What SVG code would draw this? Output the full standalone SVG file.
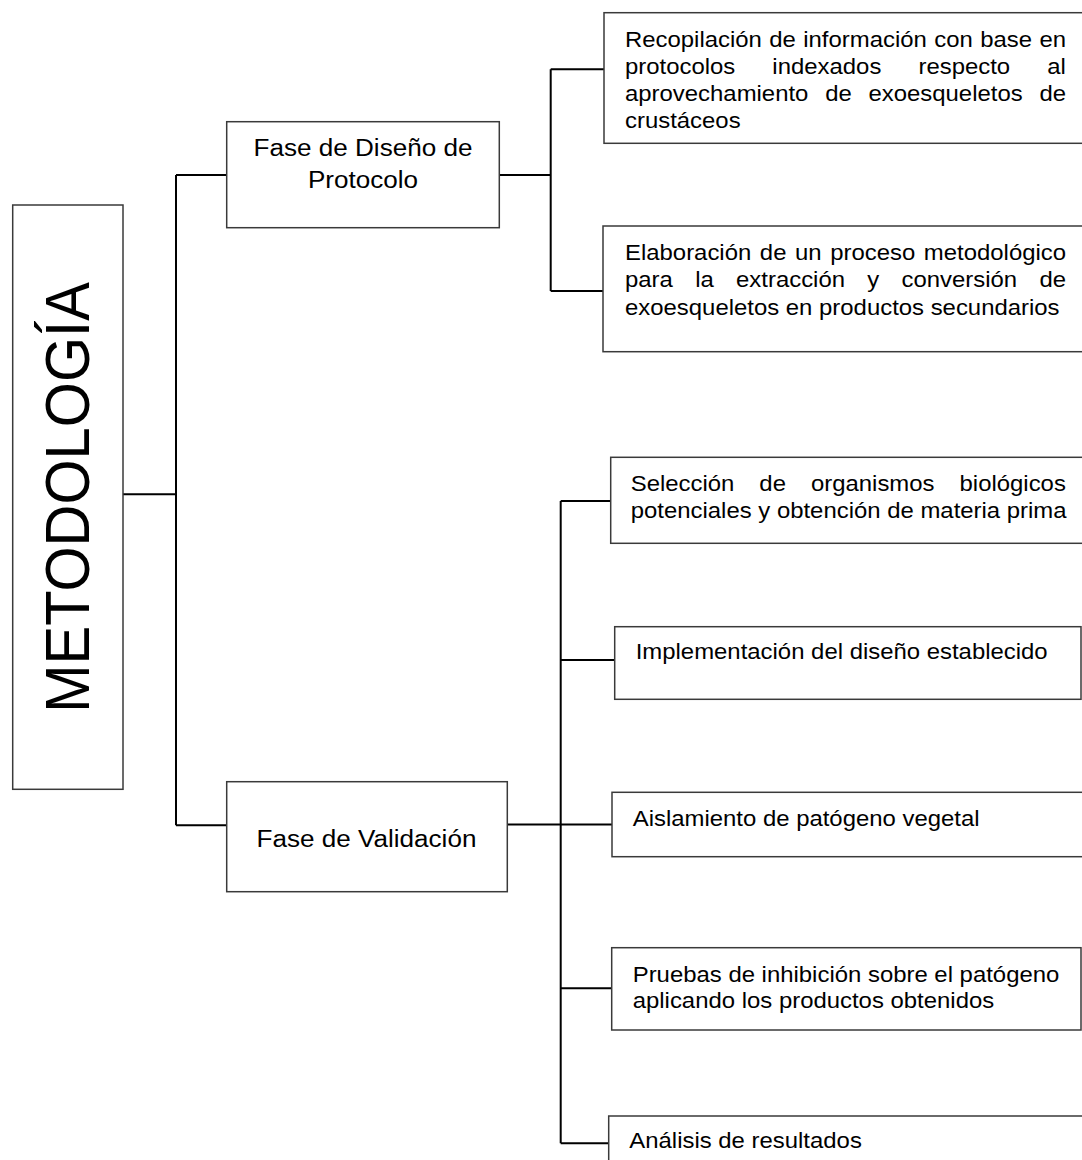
<svg xmlns="http://www.w3.org/2000/svg" width="1082" height="1160" viewBox="0 0 1082 1160">
<style>
.box{fill:#fff;stroke:#3a3a3a;stroke-width:1.5}
.conn{stroke:#000;stroke-width:2;fill:none}
text{font-family:"Liberation Sans",Arial,sans-serif;fill:#000}
.t{font-size:22px}
.p{font-size:24px;text-anchor:middle}
.m{font-size:58px;text-anchor:middle}
</style>
<rect width="1082" height="1160" fill="#fff"/>
<g id="connectors" class="conn">
<path d="M123 494.3H176M176 175V825.3M176 175H226.7M176 825.3H226.7M499.3 175H550.7M550.7 69.3V291M550.7 69.3H604M550.7 291H603M507.3 824.5H560.7M560.7 501V1143.3M560.7 501H610.7M560.7 660H614.7M560.7 824.5H612M560.7 988.3H611.7M560.7 1143.3H612"/>
</g>
<g id="metodologia">
<rect class="box" x="12.7" y="205" width="110.3" height="584.3"/>
<text class="m" transform="translate(89.3,497.5) scale(1.087,1) rotate(-90)">METODOLOGÍA</text>
</g>
<g id="fase-diseno">
<rect class="box" x="226.7" y="121.7" width="272.6" height="106"/>
<g transform="translate(363,0) scale(1.087,1)">
<text class="p" x="0" y="156.5">Fase de Diseño de</text>
<text class="p" x="0" y="187.8">Protocolo</text>
</g>
</g>
<g id="fase-validacion">
<rect class="box" x="226.7" y="781.7" width="280.6" height="110"/>
<g transform="translate(366.5,0) scale(1.087,1)">
<text class="p" x="0" y="846.7">Fase de Validación</text>
</g>
</g>
<g id="recopilacion">
<rect class="box" x="604" y="12.7" width="500" height="130.6"/>
<g class="t" transform="translate(625,0) scale(1.087,1)">
<text class="t" x="0" y="46.7" style="word-spacing:0.7px">Recopilación de información con base en</text>
<text class="t" x="0" y="74" style="word-spacing:28px">protocolos indexados respecto al</text>
<text class="t" x="0" y="101.4" style="word-spacing:9.3px">aprovechamiento de exoesqueletos de</text>
<text class="t" x="0" y="128.5">crustáceos</text>
</g>
</g>
<g id="elaboracion">
<rect class="box" x="603" y="226" width="500" height="125.7"/>
<g transform="translate(625,0) scale(1.087,1)">
<text class="t" x="0" y="260.3" style="word-spacing:1.8px">Elaboración de un proceso metodológico</text>
<text class="t" x="0" y="287.5" style="word-spacing:14.4px">para la extracción y conversión de</text>
<text class="t" x="0" y="314.7">exoesqueletos en productos secundarios</text>
</g>
</g>
<g id="seleccion">
<rect class="box" x="610.7" y="457.3" width="500" height="86"/>
<g transform="translate(630.7,0) scale(1.087,1)">
<text class="t" x="0" y="491" style="word-spacing:16.9px">Selección de organismos biológicos</text>
<text class="t" x="0" y="518.3">potenciales y obtención de materia prima</text>
</g>
</g>
<g id="implementacion">
<rect class="box" x="614.7" y="626.7" width="466.3" height="72.6"/>
<g transform="translate(635.7,0) scale(1.087,1)">
<text class="t" x="0" y="659">Implementación del diseño establecido</text>
</g>
</g>
<g id="aislamiento">
<rect class="box" x="612" y="792.3" width="500" height="64.4"/>
<g transform="translate(632.7,0) scale(1.087,1)">
<text class="t" x="0" y="826.5">Aislamiento de patógeno vegetal</text>
</g>
</g>
<g id="pruebas">
<rect class="box" x="611.7" y="947.7" width="469.3" height="82.3"/>
<g transform="translate(632.7,0) scale(1.087,1)">
<text class="t" x="0" y="981.7">Pruebas de inhibición sobre el patógeno</text>
<text class="t" x="0" y="1008.3">aplicando los productos obtenidos</text>
</g>
</g>
<g id="analisis">
<rect class="box" x="608.7" y="1116" width="500" height="100"/>
<g transform="translate(629.3,0) scale(1.087,1)">
<text class="t" x="0" y="1148.5">Análisis de resultados</text>
</g>
</g>
</svg>
